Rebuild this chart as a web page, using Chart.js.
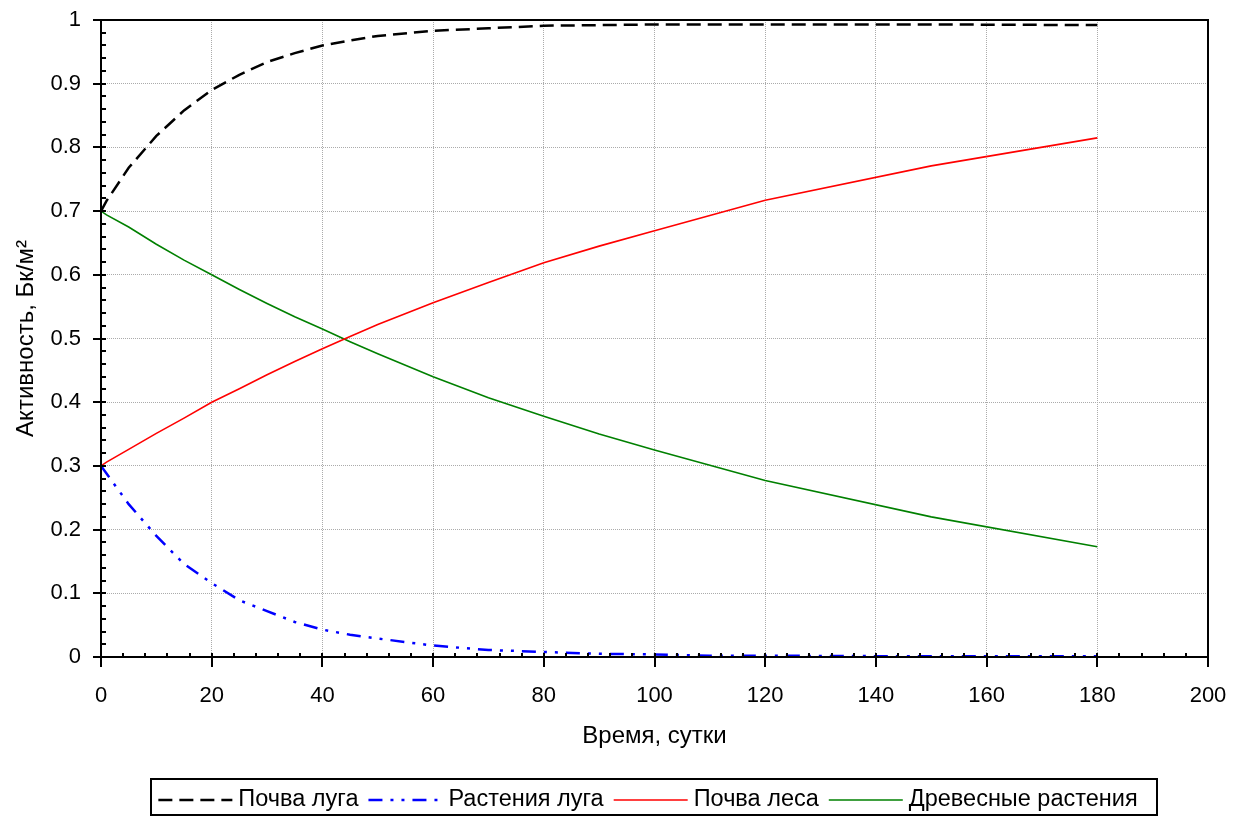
<!DOCTYPE html>
<html><head><meta charset="utf-8">
<script src="https://cdn.jsdelivr.net/npm/chart.js@4"></script>
<style>html,body{margin:0;padding:0;background:#fff}</style>
</head><body>
<canvas id="c" width="1239" height="816" style="display:block;width:1239px;height:816px"></canvas>
<script>
const days = [0, 1, 5, 10, 15, 20, 25, 30, 35, 40, 45, 50, 60, 70, 80, 90, 100, 110, 120, 150, 180];
const meadowSoil   = [0.700, 0.716, 0.768, 0.818, 0.858, 0.890, 0.914, 0.934, 0.948, 0.960, 0.968, 0.975, 0.983, 0.987, 0.991, 0.992, 0.993, 0.993, 0.993, 0.993, 0.992];
const meadowPlants = [0.300, 0.288, 0.240, 0.190, 0.146, 0.116, 0.089, 0.072, 0.055, 0.043, 0.035, 0.029, 0.018, 0.011, 0.008, 0.005, 0.004, 0.002, 0.002, 0.001, 0.001];
const forestSoil   = [0.300, 0.306, 0.326, 0.351, 0.375, 0.400, 0.421, 0.443, 0.464, 0.484, 0.503, 0.522, 0.556, 0.588, 0.619, 0.645, 0.669, 0.693, 0.717, 0.771, 0.815];
const woodyPlants  = [0.700, 0.694, 0.675, 0.648, 0.623, 0.600, 0.577, 0.555, 0.534, 0.515, 0.495, 0.476, 0.440, 0.407, 0.378, 0.350, 0.325, 0.301, 0.277, 0.220, 0.173];
const seriesNames = ['Почва луга', 'Растения луга', 'Почва леса', 'Древесные растения'];
const xTitle = 'Время, сутки';
const yTitle = 'Активность, Бк/м²';

const FONT = "'Liberation Sans', Arial, sans-serif";
Chart.defaults.font.family = FONT;
Chart.defaults.font.size = 22;
Chart.defaults.color = '#000';

function pts(vals) { return days.map((d, i) => ({x: d, y: vals[i]})); }

const styles = [
  {color: '#000000', width: 2.5, dash: [14, 7]},
  {color: '#0000ff', width: 2.5, dash: [14, 8, 3, 8, 3, 8]},
  {color: '#ff0000', width: 1.6, dash: []},
  {color: '#008000', width: 1.6, dash: []}
];
const seriesVals = [meadowSoil, meadowPlants, forestSoil, woodyPlants];

const framePlugin = {
  id: 'frame',
  afterDraw(chart) {
    const {ctx, chartArea: a, scales: {x, y}} = chart;
    ctx.save();
    ctx.strokeStyle = '#000';
    ctx.lineWidth = 2;
    ctx.setLineDash([]);
    ctx.strokeRect(a.left, a.top, a.right - a.left, a.bottom - a.top);
    ctx.beginPath();
    for (let i = 0; i <= 50; i++) {
      const py = Math.round(y.getPixelForValue(i * 0.02));
      if (i % 5 === 0) { ctx.moveTo(a.left - 8, py); ctx.lineTo(a.left + 5, py); }
      else { ctx.moveTo(a.left, py); ctx.lineTo(a.left + 5, py); }
    }
    for (let i = 0; i <= 50; i++) {
      const px = Math.round(x.getPixelForValue(i * 4));
      if (i % 5 === 0) { ctx.moveTo(px, a.bottom - 4); ctx.lineTo(px, a.bottom + 10); }
      else { ctx.moveTo(px, a.bottom - 4); ctx.lineTo(px, a.bottom); }
    }
    ctx.stroke();

    // legend
    ctx.font = '23.5px ' + FONT;
    ctx.textBaseline = 'middle';
    const sampleLen = 74, gapAfterSample = 6, gapAfterText = 10;
    let total = 0;
    const widths = seriesNames.map(n => ctx.measureText(n).width);
    widths.forEach((w, i) => { total += sampleLen + gapAfterSample + w + (i < widths.length - 1 ? gapAfterText : 0); });
    const cx = 648;
    const boxL = 151, boxR = 1157, boxT = 779, boxB = 815;
    ctx.lineWidth = 2;
    ctx.strokeStyle = '#000';
    ctx.strokeRect(boxL, boxT, boxR - boxL, boxB - boxT);
    let xx = cx - total / 2;
    const ly = 800;
    seriesNames.forEach((n, i) => {
      const s = styles[i];
      ctx.beginPath();
      ctx.strokeStyle = s.color;
      ctx.lineWidth = s.width;
      ctx.setLineDash(s.dash);
      ctx.moveTo(xx, ly); ctx.lineTo(xx + sampleLen, ly);
      ctx.stroke();
      ctx.setLineDash([]);
      xx += sampleLen + gapAfterSample;
      ctx.fillStyle = '#000';
      ctx.textAlign = 'left';
      ctx.fillText(n, xx, ly);
      xx += widths[i] + gapAfterText;
    });
    ctx.restore();
  }
};

function zeroPad(s) { s.paddingLeft = 0; s.paddingRight = 0; s.paddingTop = 0; s.paddingBottom = 0; }

new Chart(document.getElementById('c'), {
  type: 'line',
  data: {
    datasets: seriesVals.map((v, i) => ({
      label: seriesNames[i],
      data: pts(v),
      borderColor: styles[i].color,
      borderWidth: styles[i].width,
      borderDash: styles[i].dash,
      pointRadius: 0,
      tension: 0,
      fill: false
    }))
  },
  options: {
    responsive: false,
    animation: false,
    layout: {padding: {left: 0, top: 20, right: 31, bottom: 59}},
    plugins: {legend: {display: false}, tooltip: {enabled: false}},
    scales: {
      x: {
        type: 'linear', min: 0, max: 200,
        afterFit: s => { s.height = 100; zeroPad(s); },
        ticks: {stepSize: 20, padding: 26, maxRotation: 0, font: {size: 22}},
        grid: {color: '#ababab', lineWidth: 1, drawTicks: false},
        border: {display: false, dash: [1, 1]},
        title: {display: true, text: xTitle, font: {size: 24}, padding: {top: 0, bottom: 6}}
      },
      y: {
        type: 'linear', min: 0, max: 1,
        afterFit: s => { s.width = 101; zeroPad(s); },
        ticks: {stepSize: 0.1, padding: 20, font: {size: 22},
          callback: v => { const r = Math.round(v * 10) / 10; return r === 0 ? '0' : r === 1 ? '1' : r.toFixed(1); }},
        grid: {color: '#ababab', lineWidth: 1, drawTicks: false},
        border: {display: false, dash: [1, 1]},
        title: {display: true, text: yTitle, font: {size: 24}, padding: {top: 12, bottom: 0}}
      }
    }
  },
  plugins: [framePlugin]
});
</script>
</body></html>
